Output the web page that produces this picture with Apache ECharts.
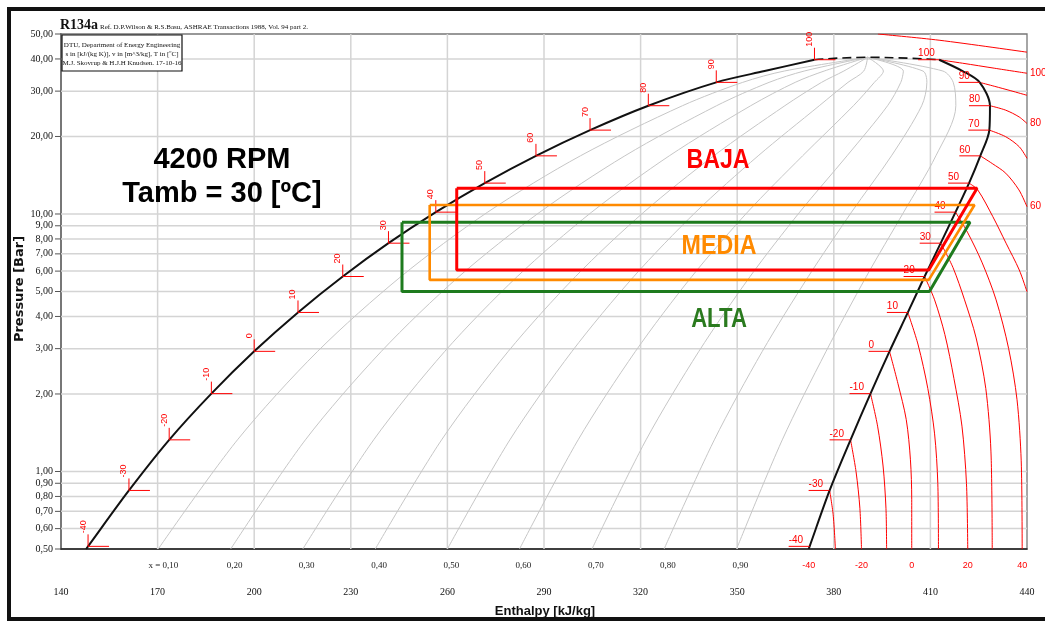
<!DOCTYPE html>
<html lang="es">
<head>
<meta charset="utf-8">
<title>R134a p-h</title>
<script src="https://cdn.jsdelivr.net/npm/echarts@6.0.0/dist/echarts.min.js"></script>
<style>
  body { margin: 0; background: #fff; }
  #main { width: 1045px; height: 623px; }
</style>
</head>
<body>
<div id="main"></div>
<script>
// axis ticks
var hTicks = [140, 170, 200, 230, 260, 290, 320, 350, 380, 410, 440];
var pTicks = [0.5, 0.6, 0.7, 0.8, 0.9, 1, 2, 3, 4, 5, 6, 7, 8, 9, 10, 20, 30, 40, 50];

// saturation curve (T in ºC, p in bar, h in kJ/kg)
var satTemp  = [-40.5, -40, -30, -20, -10, 0, 10, 20, 30, 40, 50, 60, 70, 80, 90, 95, 100];
var satPress = [0.5, 0.512, 0.844, 1.327, 2.006, 2.928, 4.146, 5.717, 7.702, 10.166, 13.179, 16.818, 21.168, 26.332, 32.442, 35.9, 39.724];
var liqH     = [147.8, 148.4, 161.1, 173.6, 186.7, 200.0, 213.6, 227.5, 241.7, 256.4, 271.6, 287.5, 304.3, 322.4, 343.5, 358.5, 374.0];
var vapH     = [372.2, 372.5, 378.7, 385.2, 391.4, 397.3, 403.0, 408.2, 413.2, 417.8, 422.0, 425.5, 428.3, 428.5, 425.3, 420.0, 412.7];
var critPoint = [390.5, 40.59];

// constant quality lines
var qualityX = [0.1, 0.2, 0.3, 0.4, 0.5, 0.6, 0.7, 0.8, 0.9];
var qualityP = [0.5, 1.327, 2.928, 5.717, 10.166, 16.818, 26.332, 32.442, 35.9, 40.59];
var qualityH = [
  [170.2, 194.8, 219.7, 245.6, 272.5, 301.3, 333.0, 351.7, 364.6, 390.5],
  [192.7, 215.9, 239.5, 263.6, 288.7, 315.1, 343.6, 359.9, 370.8, 390.5],
  [215.1, 237.1, 259.2, 281.7, 304.8, 328.9, 354.2, 368.0, 377.0, 390.5],
  [237.6, 258.2, 278.9, 299.8, 321.0, 342.7, 364.8, 376.2, 383.1, 390.5],
  [260.0, 279.4, 298.7, 317.9, 337.1, 356.5, 375.5, 384.4, 389.3, 390.5],
  [282.4, 300.6, 318.4, 335.9, 353.2, 370.3, 386.1, 392.6, 395.4, 390.5],
  [304.9, 321.7, 338.1, 354.0, 369.4, 384.1, 396.7, 400.8, 401.6, 390.5],
  [327.3, 342.9, 357.8, 372.1, 385.5, 397.9, 407.3, 408.9, 407.7, 390.5],
  [349.8, 364.0, 377.6, 390.1, 401.7, 411.7, 417.9, 417.1, 413.9, 390.5]
];

// isotherms in the vapour region, [h, p]
var isoTemp = [-40, -30, -20, -10, 0, 10, 20, 30, 40, 50, 60, 70, 80, 90, 100, 110];
var isoLines = [
  [[372.5, 0.512], [372.2, 0.5]],
  [[378.7, 0.844], [379.8, 0.68], [380.5, 0.5]],
  [[385.2, 1.327], [386.9, 1.0], [388.1, 0.72], [388.6, 0.5]],
  [[391.4, 2.006], [393.6, 1.5], [395.3, 1.05], [396.2, 0.72], [396.4, 0.5]],
  [[397.3, 2.928], [399.9, 2.2], [402.5, 1.59], [403.8, 1.11], [404.2, 0.78], [404.2, 0.5]],
  [[403.0, 4.146], [406.2, 3.1], [409.2, 2.1], [411.3, 1.4], [412.3, 0.9], [412.5, 0.5]],
  [[408.2, 5.717], [411.3, 4.64], [414.5, 3.4], [417.3, 2.3], [419.8, 1.5], [421.2, 0.9], [421.6, 0.5]],
  [[413.2, 7.702], [417.0, 6.2], [420.6, 4.64], [424.2, 3.3], [427.2, 2.1], [428.8, 1.2], [429.2, 0.5]],
  [[417.8, 10.166], [421.5, 8.5], [426.0, 6.5], [430.4, 4.64], [434.3, 3.0], [436.9, 1.9], [438.2, 1.1], [438.5, 0.5]],
  [[422.0, 13.179], [424.7, 12.4], [429.4, 9.76], [433.5, 7.7], [437.6, 6.06], [440, 4.99]],
  [[425.5, 16.818], [429.2, 15.7], [433.4, 14.4], [437.5, 12.4], [440, 10.67]],
  [[428.3, 21.168], [433.4, 19.95], [437.6, 18.24], [440, 16.45]],
  [[428.5, 26.332], [433.4, 25.3], [437.6, 23.8], [440, 22.46]],
  [[425.3, 32.442], [430.0, 31.3], [435.0, 30.1], [440, 28.9]],
  [[412.7, 39.724], [420.0, 38.5], [430.0, 36.8], [440, 35.2]],
  [[393.7, 50], [412.7, 47.3], [440, 42.5]]
];

// refrigeration cycles
var bajaH  = [262.9, 424.5, 409.5, 262.9, 262.9];
var bajaP  = [12.6, 12.6, 6.06, 6.06, 12.6];
var mediaH = [254.5, 423.7, 409.5, 254.5, 254.5];
var mediaP = [10.84, 10.84, 5.55, 5.55, 10.84];
var altaH  = [245.9, 422.3, 409.7, 245.9, 245.9];
var altaP  = [9.29, 9.29, 5.0, 5.0, 9.29];

var RED = '#ff0000';
var chart = echarts.init(document.getElementById('main'));

function fmt2(v) { return v.toFixed(2).replace('.', ','); }
function pairs(hs, ps) { return hs.map(function (h, i) { return [h, ps[i]]; }); }
function seg(x1, y1, x2, y2, color, w) {
  return { type: 'line', shape: { x1: x1, y1: y1, x2: x2, y2: y2 }, style: { stroke: color, lineWidth: w } };
}
function txt(x, y, text, font, fill, align, vAlign, rot) {
  return { type: 'text', x: x, y: y, rotation: rot || 0,
    style: { text: text, font: font, fill: fill, align: align, verticalAlign: vAlign } };
}
function line(data, color, width, z, extra) {
  var s = { type: 'line', data: data, showSymbol: false, symbol: 'none', silent: true,
    animation: false, z: z, lineStyle: { color: color, width: width } };
  for (var k in extra) s[k] = extra[k];
  return s;
}
function custom(data, z, fn) {
  return { type: 'custom', data: data, z: z, silent: true, animation: false, renderItem: fn };
}

var series = [];

// grid lines + axis labels
series.push(custom(pTicks.map(function (p) { return [140, p]; }), 1, function (params, api) {
  var p = api.value(1);
  var a = api.coord([140, p]), b = api.coord([440, p]);
  var kids = [];
  if (p > 0.5 && p < 50) kids.push(seg(a[0], a[1], b[0], b[1], '#d4d4d4', 1.5));
  kids.push(seg(a[0] - 6, a[1], a[0], a[1], '#555', 1));
  kids.push(txt(a[0] - 8, a[1], fmt2(p), '10px "Liberation Serif"', '#111', 'right', 'middle'));
  return { type: 'group', children: kids };
}));
series.push(custom(hTicks.map(function (h) { return [h, 0.5]; }), 1, function (params, api) {
  var h = api.value(0);
  var a = api.coord([h, 0.5]), b = api.coord([h, 50]);
  var kids = [];
  if (h > 140 && h < 440) kids.push(seg(a[0], a[1], b[0], b[1], '#d4d4d4', 1.5));
  kids.push(txt(a[0], a[1] + 43, String(h), '10px "Liberation Serif"', '#111', 'center', 'middle'));
  return { type: 'group', children: kids };
}));

// quality lines
qualityH.forEach(function (row) {
  series.push(line(pairs(row, qualityP), '#c6c6c6', 1, 2, { smooth: 0.3 }));
});
series.push(custom(qualityH.map(function (row, i) { return [row[0], qualityP[0], qualityX[i]]; }), 4, function (params, api) {
  var c = api.coord([api.value(0), api.value(1)]);
  var q = api.value(2);
  var first = params.dataIndex === 0;
  return txt(first ? c[0] + 20 : c[0] - 4, c[1] + 17, (first ? 'x = ' : '') + fmt2(q),
    '9px "Liberation Serif"', '#222', first ? 'right' : 'left', 'middle');
}));

// isotherms
isoLines.forEach(function (pts) {
  series.push(line(pts, RED, 1, 3, { smooth: 0.3 }));
});
var bottomLbl = [], edgeLbl = [];
isoLines.forEach(function (pts, i) {
  var last = pts[pts.length - 1];
  if (isoTemp[i] % 20 !== 0) return;
  if (last[1] === 0.5) bottomLbl.push([last[0], last[1], isoTemp[i]]);
  if (last[0] === 440) edgeLbl.push([last[0], last[1], isoTemp[i]]);
});
series.push(custom(bottomLbl, 4, function (params, api) {
  var c = api.coord([api.value(0), api.value(1)]);
  return txt(c[0], c[1] + 17, String(api.value(2)), '9px "Liberation Sans"', RED, 'center', 'middle');
}));
series.push(custom(edgeLbl, 4, function (params, api) {
  var c = api.coord([api.value(0), api.value(1)]);
  return txt(c[0] + 3, c[1], String(api.value(2)), '10px "Liberation Sans"', RED, 'left', 'middle');
}));

// saturation dome
var n = satTemp.length;
var liqLine = pairs(liqH, satPress);
var vapLine = pairs(vapH, satPress).reverse();
series.push(line(liqLine, '#111', 2, 4, { smooth: 0.3 }));
series.push(line(vapLine, '#111', 2, 4, { smooth: 0.3 }));
series.push(line([[liqH[n - 1], satPress[n - 1]], critPoint, [vapH[n - 1], satPress[n - 1]]], '#111', 1.6, 4,
  { smooth: 0.5, lineStyle: { color: '#111', width: 1.6, type: [9, 5] } }));

// saturation temperature marks
var satMarks = [];
satTemp.forEach(function (t, i) { if (t % 10 === 0) satMarks.push(i); });
series.push(custom(satMarks.map(function (i) { return [liqH[i], satPress[i], satTemp[i]]; }), 5, function (params, api) {
  var c = api.coord([api.value(0), api.value(1)]);
  return { type: 'group', children: [
    seg(c[0], c[1] - 12, c[0], c[1], RED, 1),
    seg(c[0], c[1], c[0] + 21, c[1], RED, 1),
    txt(c[0] - 5, c[1] - 13, String(api.value(2)), '9px "Liberation Sans"', RED, 'left', 'middle', Math.PI / 2)
  ] };
}));
series.push(custom(satMarks.map(function (i) { return [vapH[i], satPress[i], satTemp[i]]; }), 5, function (params, api) {
  var c = api.coord([api.value(0), api.value(1)]);
  return { type: 'group', children: [
    seg(c[0] - 21, c[1], c[0], c[1], RED, 1),
    txt(c[0] - 21, c[1] - 1, String(api.value(2)), '10px "Liberation Sans"', RED, 'left', 'bottom')
  ] };
}));

// cycles
series.push(line(pairs(altaH, altaP), '#1e7b1e', 3, 6));
series.push(line(pairs(mediaH, mediaP), '#ff8a00', 2.6, 6));
series.push(line(pairs(bajaH, bajaP), RED, 3, 6));

var option = {
  backgroundColor: '#fff',
  animation: false,
  grid: { left: 61, right: 18, top: 34, bottom: 74, show: true, borderColor: '#777', borderWidth: 1.3, backgroundColor: '#fff' },
  xAxis: {
    type: 'value', min: 140, max: 440,
    axisLine: { show: true, onZero: false, lineStyle: { color: '#222', width: 1.5 } },
    axisTick: { show: false }, axisLabel: { show: false }, splitLine: { show: false }
  },
  yAxis: {
    type: 'log', logBase: 10, min: 0.5, max: 50,
    axisLine: { show: true, onZero: false, lineStyle: { color: '#777', width: 2 } },
    axisTick: { show: false }, axisLabel: { show: false }, splitLine: { show: false }, minorSplitLine: { show: false }
  },
  series: series,
  graphic: [
    { type: 'rect', z: 100, shape: { x: 9, y: 9, width: 1070, height: 610 }, style: { fill: 'none', stroke: '#111', lineWidth: 4 } },
    { type: 'text', z: 60, x: 60, y: 32, style: { text: 'R134a', font: 'bold 14px "Liberation Serif"', fill: '#111', align: 'left', verticalAlign: 'bottom' } },
    { type: 'text', z: 60, x: 100, y: 31, style: { text: 'Ref. D.P.Wilson & R.S.Basu, ASHRAE Transactions 1988, Vol. 94 part 2.', font: '7px "Liberation Serif"', fill: '#111', align: 'left', verticalAlign: 'bottom' } },
    { type: 'rect', z: 60, shape: { x: 62, y: 35, width: 120, height: 36 }, style: { fill: '#fff', stroke: '#111', lineWidth: 1.2 } },
    { type: 'text', z: 61, x: 122, y: 45, style: { text: 'DTU, Department of Energy Engineering', font: '7px "Liberation Serif"', fill: '#111', align: 'center', verticalAlign: 'middle' } },
    { type: 'text', z: 61, x: 122, y: 54, style: { text: 's in [kJ/(kg K)], v in [m^3/kg], T in [ºC]', font: '7px "Liberation Serif"', fill: '#111', align: 'center', verticalAlign: 'middle' } },
    { type: 'text', z: 61, x: 122, y: 63, style: { text: 'M.J. Skovrup & H.J.H Knudsen. 17-10-16', font: '7px "Liberation Serif"', fill: '#111', align: 'center', verticalAlign: 'middle' } },
    { type: 'text', z: 60, x: 222, y: 160, style: { text: '4200 RPM', font: 'bold 29px "Liberation Sans"', fill: '#000', align: 'center', verticalAlign: 'middle' } },
    { type: 'text', z: 60, x: 222, y: 194, style: { text: 'Tamb = 30 [ºC]', font: 'bold 29px "Liberation Sans"', fill: '#000', align: 'center', verticalAlign: 'middle' } },
    { type: 'text', z: 60, x: 718, y: 161, scaleX: 0.86, style: { text: 'BAJA', font: 'bold 27px "Liberation Sans"', fill: RED, align: 'center', verticalAlign: 'middle' } },
    { type: 'text', z: 60, x: 719, y: 247, scaleX: 0.86, style: { text: 'MEDIA', font: 'bold 27px "Liberation Sans"', fill: '#ff8a00', align: 'center', verticalAlign: 'middle' } },
    { type: 'text', z: 60, x: 719, y: 320, scaleX: 0.82, style: { text: 'ALTA', font: 'bold 27px "Liberation Sans"', fill: '#2a7a1e', align: 'center', verticalAlign: 'middle' } },
    { type: 'text', z: 60, x: 20, y: 289, rotation: Math.PI / 2, style: { text: 'Pressure [Bar]', font: 'bold 13px "DejaVu Sans"', fill: '#111', align: 'center', verticalAlign: 'middle' } },
    { type: 'text', z: 60, x: 545, y: 611, style: { text: 'Enthalpy [kJ/kg]', font: 'bold 13px "Liberation Sans"', fill: '#111', align: 'center', verticalAlign: 'middle' } }
  ]
};
chart.setOption(option);
</script>
</body>
</html>
